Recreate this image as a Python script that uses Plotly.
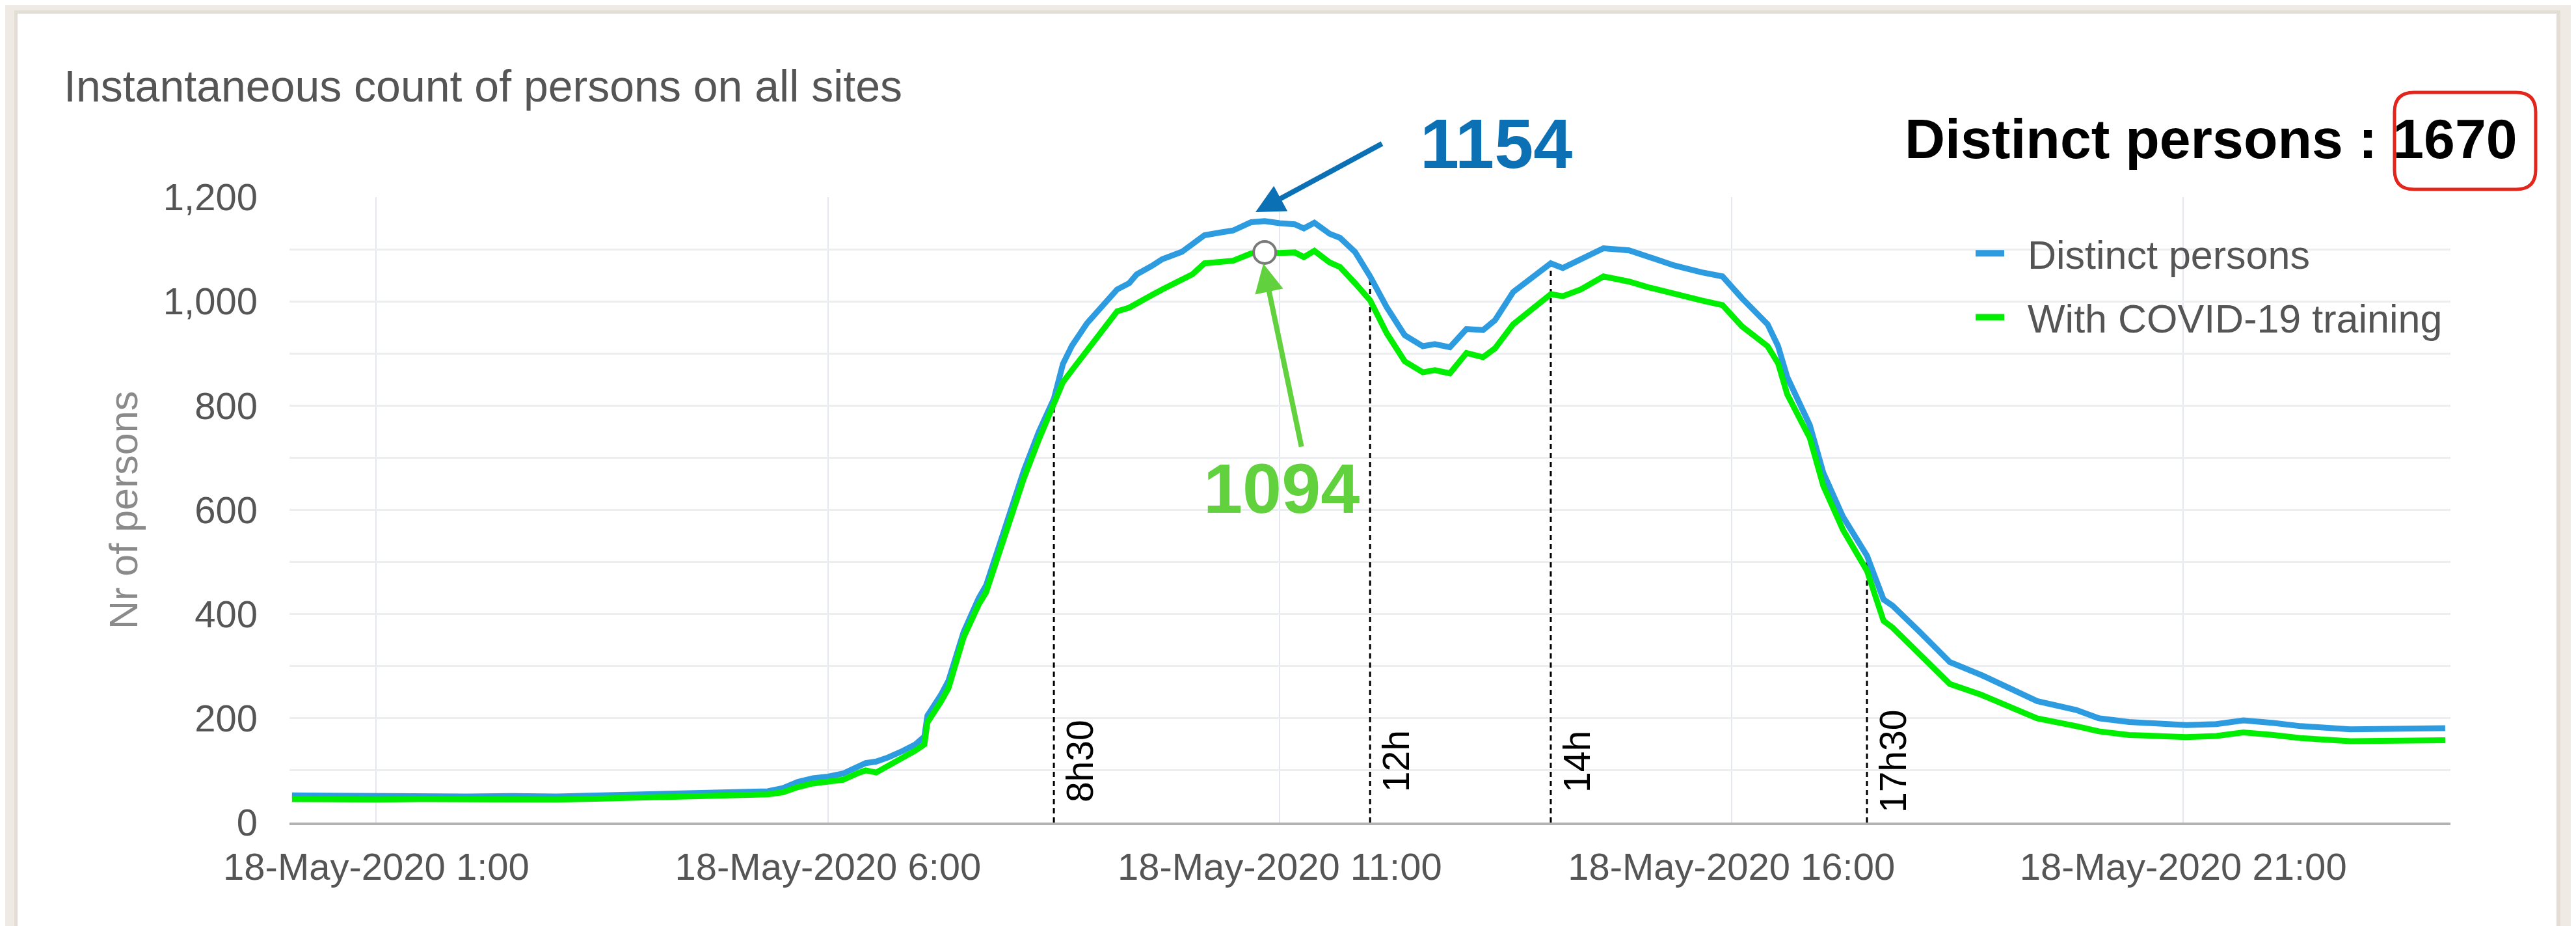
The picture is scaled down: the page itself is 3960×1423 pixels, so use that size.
import plotly.graph_objects as go

# ---------------- data ----------------
DAY = "2020-05-18 "
times = ["00:04", "00:30", "01:00", "01:30", "02:00", "02:30", "03:00", "03:30",
         "04:00", "04:30", "05:00", "05:20", "05:30", "05:40", "05:50", "06:00",
         "06:10", "06:20", "06:25", "06:32", "06:40", "06:50", "06:58", "07:04",
         "07:06", "07:15", "07:20", "07:30", "07:40", "07:45", "08:00", "08:10",
         "08:20", "08:30", "08:36", "08:42", "08:52", "09:00", "09:12", "09:20",
         "09:25", "09:35", "09:42", "09:55", "10:02", "10:10", "10:20", "10:29",
         "10:41", "10:50", "11:00", "11:10", "11:16", "11:23", "11:33", "11:40",
         "11:50", "12:00", "12:11", "12:23", "12:35", "12:43", "12:53", "13:04",
         "13:15", "13:23", "13:35", "13:50", "14:00", "14:08", "14:20", "14:35",
         "14:52", "15:05", "15:22", "15:40", "15:54", "16:07", "16:24", "16:31",
         "16:37", "16:52", "17:01", "17:14", "17:30", "17:41", "17:47", "18:05",
         "18:25", "18:46", "19:08", "19:23", "19:49", "20:04", "20:24", "21:02",
         "21:22", "21:40", "22:00", "22:18", "22:51", "23:22", "23:54"]

distinct = [52, 51, 50, 51, 50, 51, 50, 52,
            54, 55, 57, 60, 66, 78, 85, 88,
            94, 108, 114, 117, 125, 138, 150, 165,
            205, 245, 272, 365, 430, 455, 585, 675,
            750, 813, 880, 915, 958, 985, 1023, 1035,
            1052, 1068, 1081, 1095, 1110, 1127, 1132, 1136,
            1152, 1154, 1150, 1148, 1140, 1151, 1130, 1122,
            1095, 1048, 989, 935, 914, 918, 912, 947,
            945, 964, 1018, 1052, 1073, 1064, 1081, 1102,
            1098, 1085, 1069, 1056, 1048, 1006, 956, 914,
            855, 763, 671, 587, 512, 428, 416, 366,
            308, 283, 254, 233, 216, 200, 193, 187,
            189, 196, 191, 185, 179, 180, 181]

covid = [45, 44, 44, 45, 44, 45, 44, 46,
         48, 49, 51, 54, 58, 68, 75, 78,
         82, 95, 100, 96, 108, 124, 138, 150,
         192, 232, 258, 355, 418, 442, 570, 660,
         735, 800, 845, 868, 906, 935, 981, 988,
         997, 1012, 1023, 1040, 1052, 1073, 1077, 1078,
         1092, 1094, 1093, 1094, 1085, 1097, 1075, 1066,
         1035, 1002, 939, 885, 864, 868, 862, 901,
         893, 910, 956, 989, 1014, 1010, 1023, 1048,
         1038, 1027, 1014, 1002, 993, 952, 914, 881,
         822, 738, 646, 562, 483, 387, 374, 324,
         266, 245, 220, 200, 185, 175, 168, 164,
         166, 173, 168, 162, 156, 157, 158]

series_names = ["Distinct persons", "With COVID-19 training"]

marker_times = ["08:30", "12:00", "14:00", "17:30"]
marker_labels = ["8h30", "12h", "14h", "17h30"]

peak_time = "10:50"
peak_distinct = 1154
peak_covid = 1094
total_distinct = 1670

xtick_times = ["01:00", "06:00", "11:00", "16:00", "21:00"]
xtick_text = ["18-May-2020 1:00", "18-May-2020 6:00", "18-May-2020 11:00",
              "18-May-2020 16:00", "18-May-2020 21:00"]
ytick_vals = [0, 100, 200, 300, 400, 500, 600, 700, 800, 900, 1000, 1100, 1200]
ytick_text = ["0", "", "200", "", "400", "", "600", "", "800", "", "1,000", "", "1,200"]

# ---------------- layout geometry ----------------
W, H = 3960, 1423
PL, PR, PT, PB = 437, 3759, 295, 1256
FONT = "Liberation Sans, Arial, Helvetica, sans-serif"

BLUE = "#2d9be0"
GREEN = "#00ee00"
DARKBLUE = "#0b70b4"
LIGHTGREEN = "#62d13e"


def px_x(p):
    return (p - PL) / (PR - PL)


def px_y(p):
    return (PB - p) / (PB - PT)


x = [DAY + t for t in times]
lookup = dict(zip(times, distinct))

fig = go.Figure()

# dashed reference lines from the axis up to the "Distinct persons" curve
for t in marker_times:
    fig.add_trace(go.Scatter(
        x=[DAY + t, DAY + t], y=[0, lookup[t]], mode="lines",
        line=dict(color="black", width=3, dash="8px,6px"),
        showlegend=False, hoverinfo="skip"))

fig.add_trace(go.Scatter(x=x, y=distinct, mode="lines", name=series_names[0],
                         line=dict(color=BLUE, width=9), showlegend=False))
fig.add_trace(go.Scatter(x=x, y=covid, mode="lines", name=series_names[1],
                         line=dict(color=GREEN, width=9), showlegend=False))

# highlighted point
fig.add_trace(go.Scatter(x=[DAY + peak_time], y=[peak_covid], mode="markers",
                         marker=dict(size=34, color="white",
                                     line=dict(color="#7a7a7a", width=4)),
                         showlegend=False, hoverinfo="skip"))

# legend entries (short swatch: a dash pattern that only shows its first segment)
for nm, col, grp in [(series_names[0], BLUE, "a"), (series_names[1], GREEN, "b")]:
    fig.add_trace(go.Scatter(x=[None], y=[None], mode="lines", name=nm,
                             legendgroup=grp,
                             line=dict(color=col, width=15, dash="44px,300px")))

annotations = []

# chart title
annotations.append(dict(text="Instantaneous count of persons on all sites",
                        xref="paper", yref="paper", x=px_x(88), y=px_y(124),
                        xanchor="left", yanchor="middle", showarrow=False,
                        font=dict(family=FONT, size=68, color="#555555")))
# y axis title
annotations.append(dict(text="Nr of persons", xref="paper", yref="paper",
                        x=px_x(182), y=px_y(776), textangle=-90,
                        xanchor="center", yanchor="middle", showarrow=False,
                        font=dict(family=FONT, size=61, color="#8a8a8a")))
# distinct persons total
annotations.append(dict(text="<b>Distinct persons : %d</b>" % total_distinct,
                        xref="paper", yref="paper", x=px_x(3864), y=px_y(205),
                        xanchor="right", yanchor="middle", showarrow=False,
                        font=dict(family=FONT, size=86, color="black")))
# peak values
annotations.append(dict(text="<b>%d</b>" % peak_distinct, xref="paper", yref="paper",
                        x=px_x(2292), y=px_y(212), xanchor="center", yanchor="middle",
                        showarrow=False, font=dict(family=FONT, size=108, color=DARKBLUE)))
annotations.append(dict(text="<b>%d</b>" % peak_covid, xref="paper", yref="paper",
                        x=px_x(1962), y=px_y(742), xanchor="center", yanchor="middle",
                        showarrow=False, font=dict(family=FONT, size=108, color=LIGHTGREEN)))
# arrows
annotations.append(dict(text="", xref="paper", yref="paper", x=px_x(1922), y=px_y(318),
                        ax=196, ay=-106, showarrow=True, arrowhead=2, arrowsize=1.1,
                        arrowwidth=8, arrowcolor=DARKBLUE))
annotations.append(dict(text="", xref="paper", yref="paper", x=px_x(1934), y=px_y(397),
                        ax=59, ay=283, showarrow=True, arrowhead=2, arrowsize=1.1,
                        arrowwidth=8, arrowcolor=LIGHTGREEN))
# vertical marker labels
for t, lab in zip(marker_times, marker_labels):
    annotations.append(dict(text=lab, xref="x", yref="paper", x=DAY + t, y=px_y(1162),
                            xshift=40, textangle=-90, xanchor="center", yanchor="middle",
                            showarrow=False, font=dict(family=FONT, size=57, color="black")))

shapes = [
    # card shadow + white card
    dict(type="rect", xref="paper", yref="paper", layer="below",
         x0=px_x(14), x1=px_x(3928), y0=px_y(1440), y1=px_y(8),
         fillcolor="rgba(120,110,100,0.10)", line=dict(width=0)),
    dict(type="rect", xref="paper", yref="paper", layer="below",
         x0=px_x(19), x1=px_x(3922), y0=px_y(1440), y1=px_y(13),
         fillcolor="white", line=dict(width=0)),
]
# red hand-drawn style rounded box around the total
bx0, bx1, by0, by1, r = 3673, 3890, 134, 283, 30
path = ("M {a},{b} L {c},{b} Q {d},{b} {d},{e} L {d},{f} Q {d},{g} {c},{g} "
        "L {a},{g} Q {h},{g} {h},{f} L {h},{e} Q {h},{b} {a},{b} Z").format(
    a=px_x(bx0 + r), b=px_y(by0), c=px_x(bx1 - r), d=px_x(bx1),
    e=px_y(by0 + r), f=px_y(by1 - r), g=px_y(by1), h=px_x(bx0))
shapes.append(dict(type="path", xref="paper", yref="paper", path=path,
                   line=dict(color="#e3261c", width=5)))

fig.update_layout(
    width=W, height=H,
    margin=dict(l=PL, r=W - PR, t=PT, b=H - PB, pad=0),
    paper_bgcolor="#efebe4",
    plot_bgcolor="rgba(0,0,0,0)",
    font=dict(family=FONT, color="#555555"),
    showlegend=True,
    legend=dict(x=px_x(3024), y=px_y(335), xanchor="left", yanchor="top",
                bgcolor="rgba(0,0,0,0)", traceorder="grouped", tracegroupgap=16,
                itemwidth=75, font=dict(family=FONT, size=61, color="#555555")),
    xaxis=dict(type="date",
               range=[DAY + "00:02:20", DAY + "23:57:30"],
               tickvals=[DAY + t for t in xtick_times], ticktext=xtick_text,
               showgrid=True, gridcolor="#e4e8ee", gridwidth=2,
               showline=True, linecolor="#b2b2b2", linewidth=4,
               ticks="", zeroline=False, ticklabelstandoff=14,
               tickfont=dict(family=FONT, size=58, color="#555555")),
    yaxis=dict(range=[0, 1200], tickvals=ytick_vals, ticktext=ytick_text,
               showgrid=True, gridcolor="#eceef2", gridwidth=3,
               zeroline=False, showline=False, ticks="",
               ticklabelstandoff=48,
               tickfont=dict(family=FONT, size=58, color="#555555")),
    annotations=annotations,
    shapes=shapes,
)

fig.write_html("out.html")
